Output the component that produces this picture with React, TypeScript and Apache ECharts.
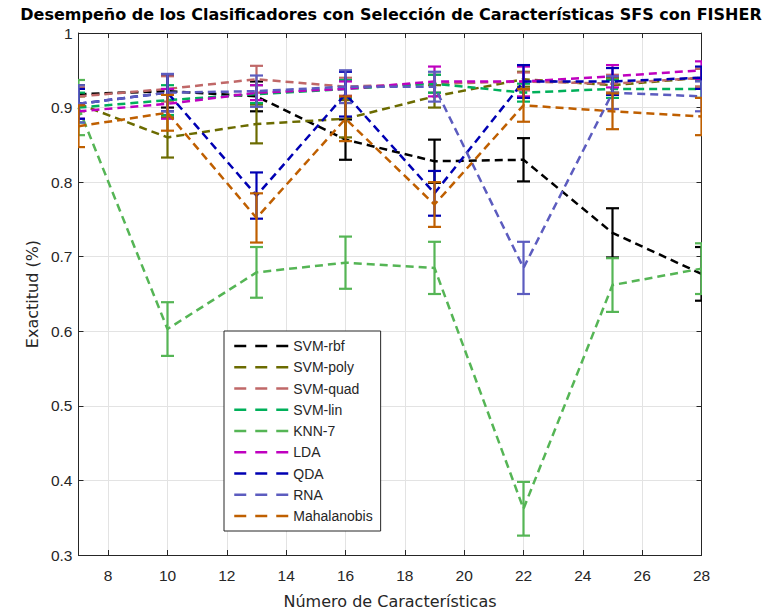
import React, { useEffect, useRef } from "react";
import * as echarts from "echarts";

const xValues = [7, 10, 13, 16, 19, 22, 25, 28];
const xTicks = [8, 10, 12, 14, 16, 18, 20, 22, 24, 26, 28];
const yTicks = [0.3, 0.4, 0.5, 0.6, 0.7, 0.8, 0.9, 1];

const names = ["SVM-rbf", "SVM-poly", "SVM-quad", "SVM-lin", "KNN-7", "LDA", "QDA", "RNA", "Mahalanobis"];

const rbf = [0.918, 0.922, 0.915, 0.857, 0.828, 0.830, 0.732, 0.677];
const rbfErr = [0.012, 0.022, 0.020, 0.027, 0.029, 0.029, 0.033, 0.036];
const poly = [0.905, 0.860, 0.878, 0.885, 0.915, 0.938, 0.930, 0.940];
const polyErr = [0.010, 0.027, 0.026, 0.025, 0.015, 0.010, 0.010, 0.012];
const quad = [0.915, 0.925, 0.938, 0.928, 0.932, 0.935, 0.932, 0.940];
const quadErr = [0.012, 0.017, 0.018, 0.012, 0.012, 0.012, 0.012, 0.012];
const lin = [0.900, 0.910, 0.918, 0.925, 0.932, 0.920, 0.925, 0.925];
const linErr = [0.020, 0.020, 0.012, 0.012, 0.012, 0.012, 0.012, 0.012];
const knn = [0.900, 0.603, 0.679, 0.692, 0.685, 0.362, 0.662, 0.684];
const knnErr = [0.037, 0.036, 0.034, 0.035, 0.035, 0.036, 0.036, 0.034];
const lda = [0.895, 0.905, 0.920, 0.925, 0.935, 0.935, 0.942, 0.950];
const ldaErr = [0.010, 0.020, 0.010, 0.010, 0.020, 0.020, 0.015, 0.012];
const qda = [0.905, 0.920, 0.782, 0.918, 0.785, 0.935, 0.935, 0.940];
const qdaErr = [0.020, 0.025, 0.031, 0.030, 0.030, 0.022, 0.018, 0.015];
const rna = [0.905, 0.920, 0.922, 0.928, 0.928, 0.685, 0.920, 0.915];
const rnaErr = [0.025, 0.025, 0.021, 0.022, 0.020, 0.035, 0.022, 0.020];
const maha = [0.875, 0.893, 0.752, 0.885, 0.770, 0.903, 0.895, 0.888];
const mahaErr = [0.028, 0.024, 0.033, 0.030, 0.030, 0.022, 0.024, 0.025];

const values = [rbf, poly, quad, lin, knn, lda, qda, rna, maha];
const errors = [rbfErr, polyErr, quadErr, linErr, knnErr, ldaErr, qdaErr, rnaErr, mahaErr];
const colors = ["#000000", "#6b6b00", "#c06868", "#00b05a", "#55b555", "#bf00bf", "#0000b3", "#5c5cbf", "#bf5f00"];

const FONT = "'Liberation Sans', Arial, Helvetica, sans-serif";
const WIDE = "'DejaVu Sans', 'Liberation Sans', sans-serif";
const TXT = "#262626";

export default function App() {
  const ref = useRef<HTMLDivElement>(null);
  useEffect(() => {
    if (!ref.current) return;
    const chart = echarts.init(ref.current, null, { renderer: "svg" });
    const series: any[] = [];
    names.forEach((name, i) => {
      const color = colors[i];
      series.push({
        name,
        type: "line",
        data: xValues.map((x, j) => [x, values[i][j]]),
        symbol: "none",
        lineStyle: { color, width: 2.5, type: [8, 5] },
        itemStyle: { color },
        z: 2 + i * 0.01,
      });
      series.push({
        name: name + " err",
        type: "custom",
        clip: true,
        data: xValues.map((x, j) => [x, values[i][j] - errors[i][j], values[i][j] + errors[i][j]]),
        encode: { x: 0, y: [1, 2] },
        z: 2 + i * 0.01,
        renderItem: (params: any, api: any) => {
          const x = api.value(0);
          const lo = api.coord([x, api.value(1)]);
          const hi = api.coord([x, api.value(2)]);
          const w = 6.5;
          const st = { stroke: color, lineWidth: 2.2, fill: "none" };
          return {
            type: "group",
            children: [
              { type: "line", shape: { x1: lo[0], y1: lo[1], x2: hi[0], y2: hi[1] }, style: st },
              { type: "line", shape: { x1: lo[0] - w, y1: lo[1], x2: lo[0] + w, y2: lo[1] }, style: st },
              { type: "line", shape: { x1: hi[0] - w, y1: hi[1], x2: hi[0] + w, y2: hi[1] }, style: st },
            ],
          };
        },
      });
    });

    const option: any = {
      animation: false,
      backgroundColor: "#ffffff",
      textStyle: { fontFamily: FONT },
      graphic: [
        {
          type: "text",
          x: 391,
          y: 14.5,
          style: {
            text: "Desempeño de los Clasificadores con Selección de Características SFS con FISHER",
            textAlign: "center",
            textVerticalAlign: "middle",
            font: "bold 16px " + WIDE,
            fill: "#000000",
          },
        },
      ],
      legend: {
        data: names,
        orient: "vertical",
        left: 224,
        top: 331,
        itemWidth: 54,
        itemHeight: 14,
        itemGap: 7.25,
        padding: [8, 8, 8, 9],
        backgroundColor: "#ffffff",
        borderColor: TXT,
        borderWidth: 1,
        borderRadius: 0,
        itemStyle: { opacity: 0 },
        lineStyle: { type: [12, 9], width: 2.5 },
        textStyle: { fontSize: 14, color: TXT, fontFamily: FONT },
        selectedMode: false,
      },
      grid: { left: 78.5, right: 69.5, top: 33, bottom: 57.5, containLabel: false },
      xAxis: [
        {
          type: "value",
          min: 7,
          max: 28,
          position: "bottom",
          name: "Número de Características",
          nameLocation: "middle",
          nameGap: 38,
          nameTextStyle: { fontSize: 16, color: TXT, fontFamily: WIDE },
          axisLine: { show: true, lineStyle: { color: TXT, width: 1 } },
          axisTick: { show: true, inside: true, length: 5, customValues: xTicks, lineStyle: { color: TXT } },
          axisLabel: { customValues: xTicks, fontSize: 15.5, color: TXT, margin: 12, fontFamily: FONT },
          splitLine: { show: true, lineStyle: { color: "#e3e3e3", width: 1 } },
        },
        {
          type: "value",
          min: 7,
          max: 28,
          position: "top",
          axisLine: { show: true, lineStyle: { color: TXT, width: 1 } },
          axisTick: { show: true, inside: true, length: 5, customValues: xTicks, lineStyle: { color: TXT } },
          axisLabel: { show: false, customValues: xTicks },
          splitLine: { show: false },
        },
      ],
      yAxis: [
        {
          type: "value",
          min: 0.3,
          max: 1,
          interval: 0.1,
          position: "left",
          name: "Exactitud (%)",
          nameLocation: "middle",
          nameGap: 37,
          nameTextStyle: { fontSize: 16, color: TXT, fontFamily: WIDE },
          axisLine: { show: true, lineStyle: { color: TXT, width: 1 } },
          axisTick: { show: true, inside: true, length: 5, customValues: yTicks, lineStyle: { color: TXT } },
          axisLabel: { customValues: yTicks, fontSize: 15.5, color: TXT, margin: 6, fontFamily: FONT, formatter: (v: number) => String(Math.round(v * 10) / 10) },
          splitLine: { show: true, lineStyle: { color: "#e3e3e3", width: 1 } },
        },
        {
          type: "value",
          min: 0.3,
          max: 1,
          interval: 0.1,
          position: "right",
          axisLine: { show: true, lineStyle: { color: TXT, width: 1 } },
          axisTick: { show: true, inside: true, length: 5, customValues: yTicks, lineStyle: { color: TXT } },
          axisLabel: { show: false },
          splitLine: { show: false },
        },
      ],
      series,
    };
    chart.setOption(option);
    return () => chart.dispose();
  }, []);
  return <div ref={ref} style={{ width: 771, height: 614, position: "absolute", left: 0, top: 0 }} />;
}
